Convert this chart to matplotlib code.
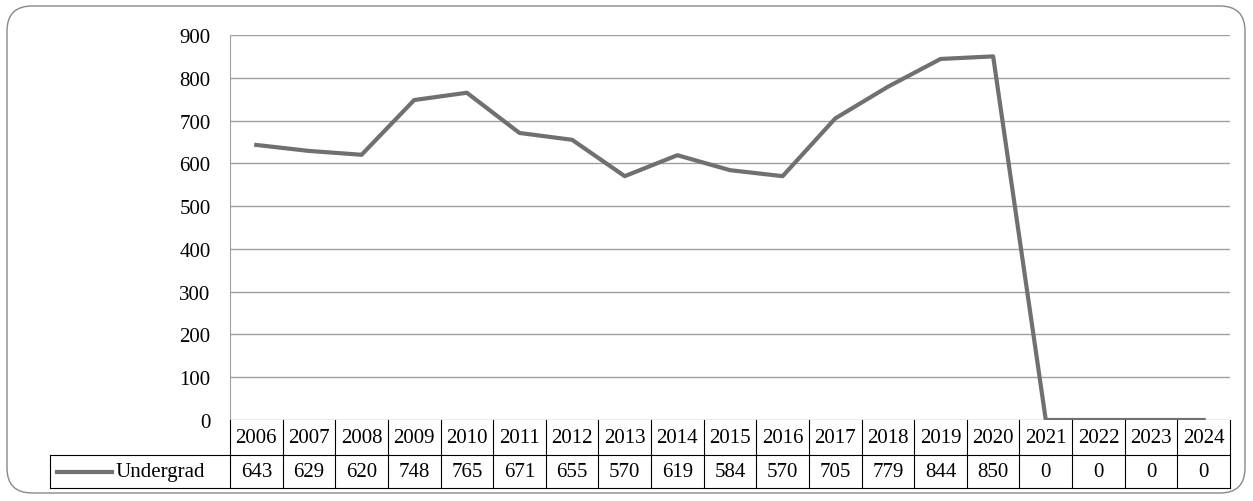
import matplotlib
matplotlib.use("Agg")
import matplotlib.pyplot as plt
from matplotlib.patches import FancyBboxPatch
from matplotlib.lines import Line2D

years = [str(y) for y in range(2006, 2025)]
undergrad = [643, 629, 620, 748, 765, 671, 655, 570, 619, 584, 570, 705, 779, 844, 850, 0, 0, 0, 0]
yticks = list(range(0, 901, 100))

W, H = 1253, 502
fig = plt.figure(figsize=(W/100, H/100), dpi=100)
plt.rcParams['font.family'] = ['Liberation Serif', 'DejaVu Serif']

def fx(p): return p / W
def fy(p): return 1 - p / H

# frame
fig.patches.append(FancyBboxPatch((fx(7), fy(494)), fx(1238), (494-7)/H,
    boxstyle="round,pad=0,rounding_size=0.02", transform=fig.transFigure,
    fill=False, edgecolor='#888888', lw=1.0, mutation_aspect=W/H))

x0, x1, ytop, ybot = 230, 1230, 36, 421
ax = fig.add_axes([fx(x0), fy(ybot), fx(x1-x0), (ybot-ytop)/H])
n = len(years)
ax.set_xlim(-0.5, n-0.5)
ax.set_ylim(0, 900)
ax.set_yticks(yticks)
ax.set_yticklabels([str(v) for v in yticks], fontsize=15)
ax.tick_params(axis='y', length=0, pad=14)
ax.set_xticks([])
ax.grid(axis='y', color='#a0a0a0', lw=1)
for s in ['top', 'right', 'bottom']:
    ax.spines[s].set_visible(False)
ax.spines['left'].set_color('#a0a0a0')
ax.plot(range(n), undergrad, color='#707070', lw=3)

# table
cw = (x1 - x0) / n
r0, r1, r2 = 421, 456, 489
lc = '#000000'
def hl(y, xa, xb):
    fig.add_artist(Line2D([fx(xa), fx(xb)], [fy(y), fy(y)], color=lc, lw=0.8))
def vl(x, ya, yb):
    fig.add_artist(Line2D([fx(x), fx(x)], [fy(ya), fy(yb)], color=lc, lw=0.8))
hl(r1, 50, x1); hl(r2, 50, x1)
vl(50, r1, r2)
for i in range(n+1):
    vl(x0 + i*cw, r0, r2)
for i in range(n):
    cx = x0 + (i+0.5)*cw
    fig.text(fx(cx), fy((r0+r1)/2), years[i], ha='center', va='center', fontsize=15)
    fig.text(fx(cx), fy((r1+r2)/2), str(undergrad[i]), ha='center', va='center', fontsize=15)
fig.add_artist(Line2D([fx(57), fx(112)], [fy((r1+r2)/2)]*2, color='#707070', lw=3))
fig.text(fx(115), fy((r1+r2)/2), 'Undergrad', ha='left', va='center', fontsize=15)

fig.savefig('out.png', dpi=100)
